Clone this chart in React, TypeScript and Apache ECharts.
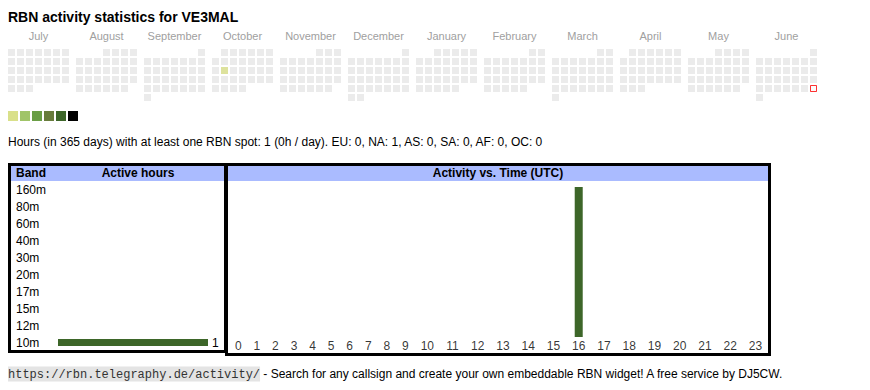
import React, { useEffect, useRef } from "react";
import * as echarts from "echarts";

// ---------- data ----------
const callsign = "VE3MAL";
const monthNames = ["July", "August", "September", "October", "November", "December", "January", "February", "March", "April", "May", "June"];
const monthKeys = ["2024-07", "2024-08", "2024-09", "2024-10", "2024-11", "2024-12", "2025-01", "2025-02", "2025-03", "2025-04", "2025-05", "2025-06"];
const activeDays: [string, number][] = [["2024-10-15", 1]];
const todayDate = "2025-06-29";
const levelColors = ["#d9e08a", "#a0c468", "#6a9e46", "#687c3c", "#3d6629", "#000000"];
const levelMins = [1, 2, 4, 7, 12, 18];
const levelMaxs = [1, 3, 6, 11, 17, 24];
const bands = ["160m", "80m", "60m", "40m", "30m", "20m", "17m", "15m", "12m", "10m"];
const bandHours = [0, 0, 0, 0, 0, 0, 0, 0, 0, 1];
const hours = [0, 1, 2, 3, 4, 5, 6, 7, 8, 9, 10, 11, 12, 13, 14, 15, 16, 17, 18, 19, 20, 21, 22, 23];
const hourCounts = [0, 0, 0, 0, 0, 0, 0, 0, 0, 0, 0, 0, 0, 0, 0, 0, 1, 0, 0, 0, 0, 0, 0, 0];
const totalHours = 1;
const totalDays = 365;
const regions = ["EU", "NA", "AS", "SA", "AF", "OC"];
const regionHours = [0, 1, 0, 0, 0, 0];
const siteUrl = "https://rbn.telegraphy.de/activity/";
const footerText = " - Search for any callsign and create your own embeddable RBN widget! A free service by DJ5CW.";

const SANS = "'Liberation Sans', Arial, Helvetica, sans-serif";
const MONO = "'Liberation Mono', 'Courier New', monospace";

// table-like column layout for the hour chart (width grows with label length)
const hourColWidth = (h: number) => 11.9 + String(h).length * 6.67;
const hourCenters: number[] = [];
let acc = 0;
hours.forEach((h) => {
  const w = hourColWidth(h);
  hourCenters.push(acc + w / 2);
  acc += w;
});
const hourTotal = acc;

function buildOption() {
  const calendars = monthKeys.map((m, i) => ({
    orient: "vertical",
    range: m,
    left: 7 + 68 * i,
    top: 48,
    cellSize: [9, 9],
    splitLine: { show: false },
    dayLabel: { show: false, firstDay: 1 },
    monthLabel: { show: false },
    yearLabel: { show: false },
    itemStyle: { color: "#ebebeb", borderColor: "#ffffff", borderWidth: 2 },
  }));

  const series: any[] = [];
  const activeSeriesIdx: number[] = [];
  monthKeys.forEach((m, i) => {
    const d = activeDays.filter((a) => a[0].startsWith(m));
    if (!d.length) return;
    activeSeriesIdx.push(series.length);
    series.push({
      type: "scatter",
      coordinateSystem: "calendar",
      calendarIndex: i,
      symbol: "rect",
      symbolSize: 7,
      data: d,
      silent: true,
    });
  });
  const todayCal = monthKeys.findIndex((m) => todayDate.startsWith(m));
  series.push({
    type: "scatter",
    coordinateSystem: "calendar",
    calendarIndex: todayCal,
    symbol: "rect",
    symbolSize: 6,
    itemStyle: { color: "#ffffff", borderColor: "#ff0000", borderWidth: 1 },
    data: [[todayDate, 0]],
    silent: true,
  });

  // month labels (grid 0)
  series.push({
    type: "bar",
    xAxisIndex: 0,
    yAxisIndex: 0,
    data: monthNames.map(() => 0),
    silent: true,
  });

  // band chart (grid 1)
  series.push({
    type: "bar",
    xAxisIndex: 1,
    yAxisIndex: 1,
    data: bandHours,
    barWidth: 7,
    itemStyle: { color: "#3d6629" },
    label: {
      show: true,
      position: "right",
      distance: 4,
      color: "#000",
      fontFamily: SANS,
      fontSize: 12,
      formatter: (p: any) => (p.value > 0 ? String(p.value) : ""),
    },
    silent: true,
  });

  // hour chart (grid 2)
  series.push({
    type: "bar",
    xAxisIndex: 2,
    yAxisIndex: 2,
    data: hours.map((h, i) => [hourCenters[i], hourCounts[i]]),
    barWidth: 8,
    itemStyle: { color: "#3d6629" },
    silent: true,
  });
  series.push({
    type: "scatter",
    xAxisIndex: 2,
    yAxisIndex: 2,
    symbolSize: 1,
    itemStyle: { color: "rgba(0,0,0,0)" },
    data: hours.map((h, i) => [hourCenters[i], 0, h]),
    label: {
      show: true,
      position: "bottom",
      distance: 2,
      color: "#000",
      fontFamily: SANS,
      fontSize: 12,
      formatter: (p: any) => String(p.value[2]),
    },
    silent: true,
  });

  const statsText =
    `Hours (in ${totalDays} days) with at least one RBN spot: ${totalHours} (${Math.round(totalHours / totalDays)}h / day). ` +
    regions.map((r, i) => `${r}: ${regionHours[i]}`).join(", ");

  const graphic: any[] = [
    { type: "text", x: 8, y: 17, style: { text: `RBN activity statistics for ${callsign}`, font: `bold 14px ${SANS}`, fill: "#000", verticalAlign: "middle" } },
    { type: "text", x: 8, y: 142, style: { text: statsText, font: `12px ${SANS}`, fill: "#000", verticalAlign: "middle" } },
    // header backgrounds
    { type: "rect", shape: { x: 11, y: 165, width: 213, height: 16 }, style: { fill: "#aabbff" }, z: 0 },
    { type: "rect", shape: { x: 228, y: 165, width: 540, height: 16 }, style: { fill: "#aabbff" }, z: 0 },
    { type: "text", x: 16, y: 173, style: { text: "Band", font: `bold 12px ${SANS}`, fill: "#000", verticalAlign: "middle" }, z: 2 },
    { type: "text", x: 138, y: 173, style: { text: "Active hours", font: `bold 12px ${SANS}`, fill: "#000", verticalAlign: "middle", align: "center" }, z: 2 },
    { type: "text", x: 498, y: 173, style: { text: "Activity vs. Time (UTC)", font: `bold 12px ${SANS}`, fill: "#000", verticalAlign: "middle", align: "center" }, z: 2 },
    // borders
    { type: "rect", shape: { x: 9.5, y: 164.5, width: 216, height: 187 }, style: { fill: "none", stroke: "#000", lineWidth: 3 }, z: 3 },
    { type: "rect", shape: { x: 226.5, y: 164.5, width: 543, height: 190 }, style: { fill: "none", stroke: "#000", lineWidth: 3 }, z: 3 },
    // footer
    {
      type: "text",
      x: 8,
      y: 374,
      style: {
        text: `{code|${siteUrl}}{txt|${footerText}}`,
        verticalAlign: "middle",
        rich: {
          code: { fontFamily: MONO, fontSize: 12, fill: "#333", backgroundColor: "#e4e4e4", padding: [2, 0, 1, 0] },
          txt: { fontFamily: SANS, fontSize: 12, fill: "#000" },
        },
      },
    },
  ];

  return {
    animation: false,
    backgroundColor: "#ffffff",
    textStyle: { fontFamily: SANS },
    calendar: calendars,
    visualMap: {
      type: "piecewise",
      seriesIndex: activeSeriesIdx,
      orient: "horizontal",
      left: 8,
      top: 111,
      padding: 0,
      itemWidth: 10,
      itemHeight: 10,
      itemGap: 2,
      itemSymbol: "rect",
      showLabel: false,
      selectedMode: false,
      hoverLink: false,
      pieces: levelColors.map((c, i) => ({ min: levelMins[i], max: levelMaxs[i], color: c })),
      outOfRange: { color: "#ebebeb" },
    },
    grid: [
      { left: 4.5, width: 816, top: 28, height: 1 },
      { left: 58, width: 150, top: 182, height: 169 },
      { left: 229, width: 539, top: 187, height: 150 },
    ],
    xAxis: [
      {
        gridIndex: 0,
        type: "category",
        data: monthNames,
        axisLine: { show: false },
        axisTick: { show: false },
        axisLabel: { margin: 1, color: "#a0a0a0", fontSize: 11, fontFamily: SANS, interval: 0 },
      },
      { gridIndex: 1, type: "value", min: 0, max: Math.max(...bandHours), show: false },
      { gridIndex: 2, type: "value", min: 0, max: hourTotal, show: false },
    ],
    yAxis: [
      { gridIndex: 0, type: "value", show: false },
      {
        gridIndex: 1,
        type: "category",
        data: bands,
        inverse: true,
        axisLine: { show: false },
        axisTick: { show: false },
        splitLine: { show: false },
        axisLabel: { align: "left", margin: 42, color: "#000", fontSize: 12, fontFamily: SANS },
      },
      { gridIndex: 2, type: "value", min: 0, max: Math.max(...hourCounts), show: false },
    ],
    series,
    graphic,
  };
}

export default function App() {
  const ref = useRef<HTMLDivElement>(null);
  useEffect(() => {
    if (!ref.current) return;
    const chart = echarts.init(ref.current, undefined, { renderer: "svg" });
    chart.setOption(buildOption() as any);
    return () => chart.dispose();
  }, []);
  return <div ref={ref} style={{ position: "absolute", left: 0, top: 0, width: 870, height: 390 }} />;
}
